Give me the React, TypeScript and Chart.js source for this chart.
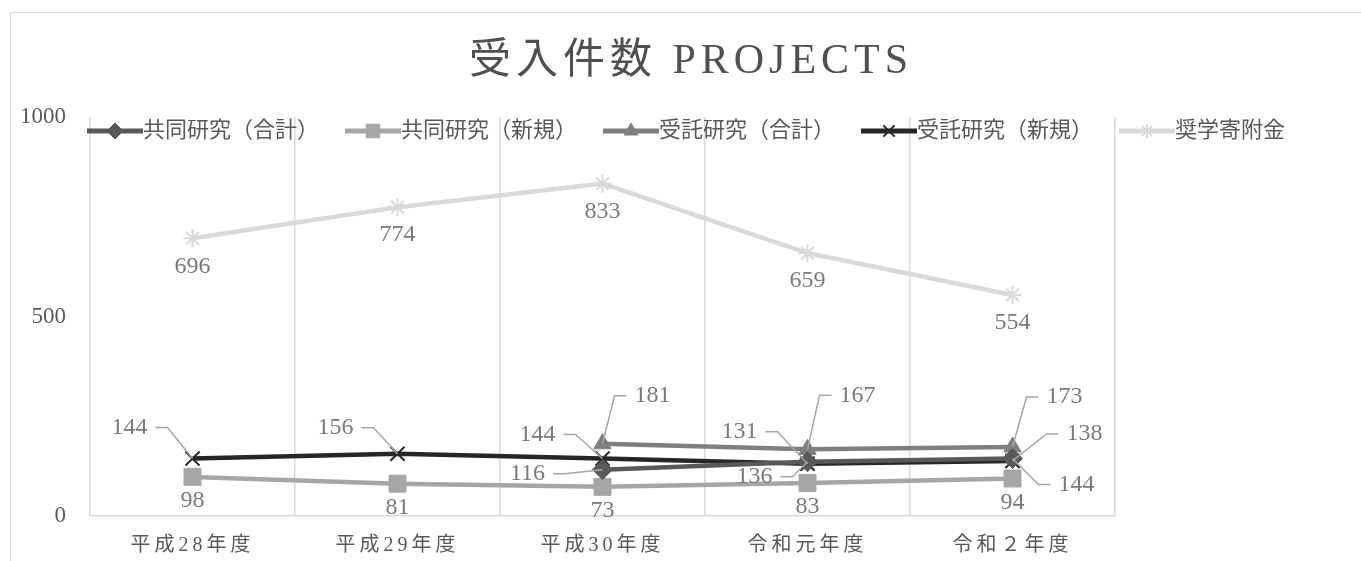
import React, { useEffect, useRef } from 'react';
import Chart from 'chart.js/auto';
import { drawPoint } from 'chart.js/helpers';

// 年度
const years = ['平成28年度', '平成29年度', '平成30年度', '令和元年度', '令和２年度'];

// 件数
const kyodoTotal = [null, null, 116, 136, 144];
const kyodoNew = [98, 81, 73, 83, 94];
const jutakuTotal = [null, null, 181, 167, 173];
const jutakuNew = [144, 156, 144, 131, 138];
const shogaku = [696, 774, 833, 659, 554];

const yTicks = [0, 500, 1000];

const title = '受入件数 PROJECTS';

// ラベルの位置 (点からのずれ, 引き出し線の有無)
const below = (d: number) => [d, d, d, d, d].map((v) => [0, v, false]);
const placeKyodoTotal = [null, null, [-75, 4, true], [-53, 15, true], [64, 26, true]];
const placeKyodoNew = below(24);
const placeJutakuTotal = [null, null, [50, -48, true], [50, -54, true], [52, -50, true]];
const placeJutakuNew = [[-63, -31, true], [-62, -26, true], [-65, -24, true], [-68, -32, true], [72, -27, true]];
const placeShogaku = below(28);

const FONT = "'Liberation Serif', 'Noto Sans CJK JP', serif";
const TEXT = '#595959';

const decorPlugin = {
  id: 'decor',
  afterDatasetsDraw(chart: any) {
    // x軸ラベルは字間をあけて描く (ticks.z = 1)
    chart.ctx.letterSpacing = '4px';
  },
  afterDraw(chart: any) {
    const ctx = chart.ctx;
    ctx.letterSpacing = '0px';
    ctx.save();

    // データラベル
    ctx.font = `24px ${FONT}`;
    ctx.textAlign = 'center';
    ctx.textBaseline = 'middle';
    chart.data.datasets.forEach((ds: any, di: number) => {
      const meta = chart.getDatasetMeta(di);
      meta.data.forEach((pt: any, i: number) => {
        const v = ds.data[i];
        const p = ds.labelPlace[i];
        if (v == null || !p) return;
        const [dx, dy, leader] = p;
        const lx = pt.x + dx;
        const ly = pt.y + dy;
        const txt = String(v);
        ctx.fillStyle = '#7a7a7a';
        ctx.fillText(txt, lx, ly);
        if (leader) {
          const w = ctx.measureText(txt).width;
          const side = dx < 0 ? 1 : -1;
          const x0 = lx + side * (w / 2 + 8);
          const x1 = x0 + side * 12;
          ctx.strokeStyle = '#a6a6a6';
          ctx.lineWidth = 1.5;
          ctx.beginPath();
          ctx.moveTo(x0, ly);
          ctx.lineTo(x1, ly);
          ctx.lineTo(pt.x, pt.y);
          ctx.stroke();
        }
      });
    });

    // 凡例
    let x = 76;
    const y = 118;
    ctx.font = `22px ${FONT}`;
    ctx.textAlign = 'left';
    chart.data.datasets.forEach((ds: any) => {
      ctx.strokeStyle = ds.borderColor;
      ctx.lineWidth = 5;
      ctx.beginPath();
      ctx.moveTo(x, y);
      ctx.lineTo(x + 56, y);
      ctx.stroke();
      ctx.fillStyle = ds.pointBackgroundColor;
      ctx.strokeStyle = ds.pointBorderColor;
      ctx.lineWidth = ds.pointBorderWidth;
      drawPoint(ctx, {
        pointStyle: ds.pointStyle,
        rotation: 0,
        radius: ds.pointRadius * 0.8,
        borderWidth: ds.pointBorderWidth,
      }, x + 28, y);
      ctx.fillStyle = TEXT;
      ctx.fillText(ds.label, x + 56, y);
      x += 56 + ctx.measureText(ds.label).width + 26;
    });

    // タイトル
    ctx.font = `42px ${FONT}`;
    ctx.letterSpacing = '5px';
    ctx.textAlign = 'center';
    ctx.fillStyle = '#505050';
    ctx.fillText(title, chart.width / 2 + 3, 49);
    ctx.restore();
    ctx.letterSpacing = '0px';
  },
};

const series = (label: string, data: any[], color: string, pointStyle: string, radius: number, pbw: number, place: any[]) => ({
  label,
  data,
  borderColor: color,
  backgroundColor: color,
  pointBackgroundColor: color,
  pointBorderColor: color,
  pointStyle,
  pointRadius: radius,
  pointBorderWidth: pbw,
  borderWidth: 4.5,
  tension: 0,
  labelPlace: place,
});

export default function App() {
  const chartRef = useRef<HTMLCanvasElement>(null);
  const chartInstance = useRef<Chart | null>(null);

  useEffect(() => {
    if (!chartRef.current) return;
    if (chartInstance.current) chartInstance.current.destroy();

    chartInstance.current = new Chart(chartRef.current, {
      type: 'line',
      data: {
        labels: years,
        datasets: [
          series('共同研究（合計）', kyodoTotal, '#595959', 'rectRot', 10, 1, placeKyodoTotal),
          series('共同研究（新規）', kyodoNew, '#a6a6a6', 'rect', 12, 1, placeKyodoNew),
          series('受託研究（合計）', jutakuTotal, '#7f7f7f', 'triangle', 10, 1, placeJutakuTotal),
          series('受託研究（新規）', jutakuNew, '#262626', 'crossRot', 10, 2, placeJutakuNew),
          series('奨学寄附金', shogaku, '#d9d9d9', 'star', 9, 2, placeShogaku),
        ] as any,
      },
      options: {
        animation: false,
        responsive: true,
        maintainAspectRatio: false,
        layout: { padding: { top: 104, right: 250, left: 0, bottom: 0 } },
        plugins: {
          legend: { display: false },
          title: { display: false },
          tooltip: { enabled: false },
        },
        scales: {
          x: {
            type: 'category',
            offset: true,
            grid: { offset: true, color: '#d9d9d9', lineWidth: 1.5, drawTicks: false },
            border: { color: '#d9d9d9', width: 1.5 },
            ticks: {
              z: 1,
              color: TEXT,
              font: { family: FONT, size: 20 },
              padding: 18,
              maxRotation: 0,
              autoSkip: false,
            },
            afterFit: (s: any) => { s.height = 95; },
          },
          y: {
            min: 0,
            max: 1000,
            afterBuildTicks: (s: any) => { s.ticks = yTicks.map((value) => ({ value })); },
            grid: { display: false, drawTicks: false },
            border: { display: false },
            ticks: {
              color: TEXT,
              font: { family: FONT, size: 23 },
              padding: 24,
              callback: (v: any) => String(v),
            },
            afterFit: (s: any) => { s.width = 79; },
          },
        },
      } as any,
      plugins: [decorPlugin],
    });

    return () => {
      if (chartInstance.current) {
        chartInstance.current.destroy();
        chartInstance.current = null;
      }
    };
  }, []);

  return (
    <div style={{ position: 'fixed', inset: 0, overflow: 'hidden', background: '#fff' }}>
      <div style={{ position: 'absolute', left: 10, top: 12, width: 1356, height: 600, border: '1px solid #d9d9d9', boxSizing: 'border-box' }}>
        <div style={{ position: 'relative', width: '100%', height: '100%' }}>
          <canvas ref={chartRef}></canvas>
        </div>
      </div>
    </div>
  );
}
